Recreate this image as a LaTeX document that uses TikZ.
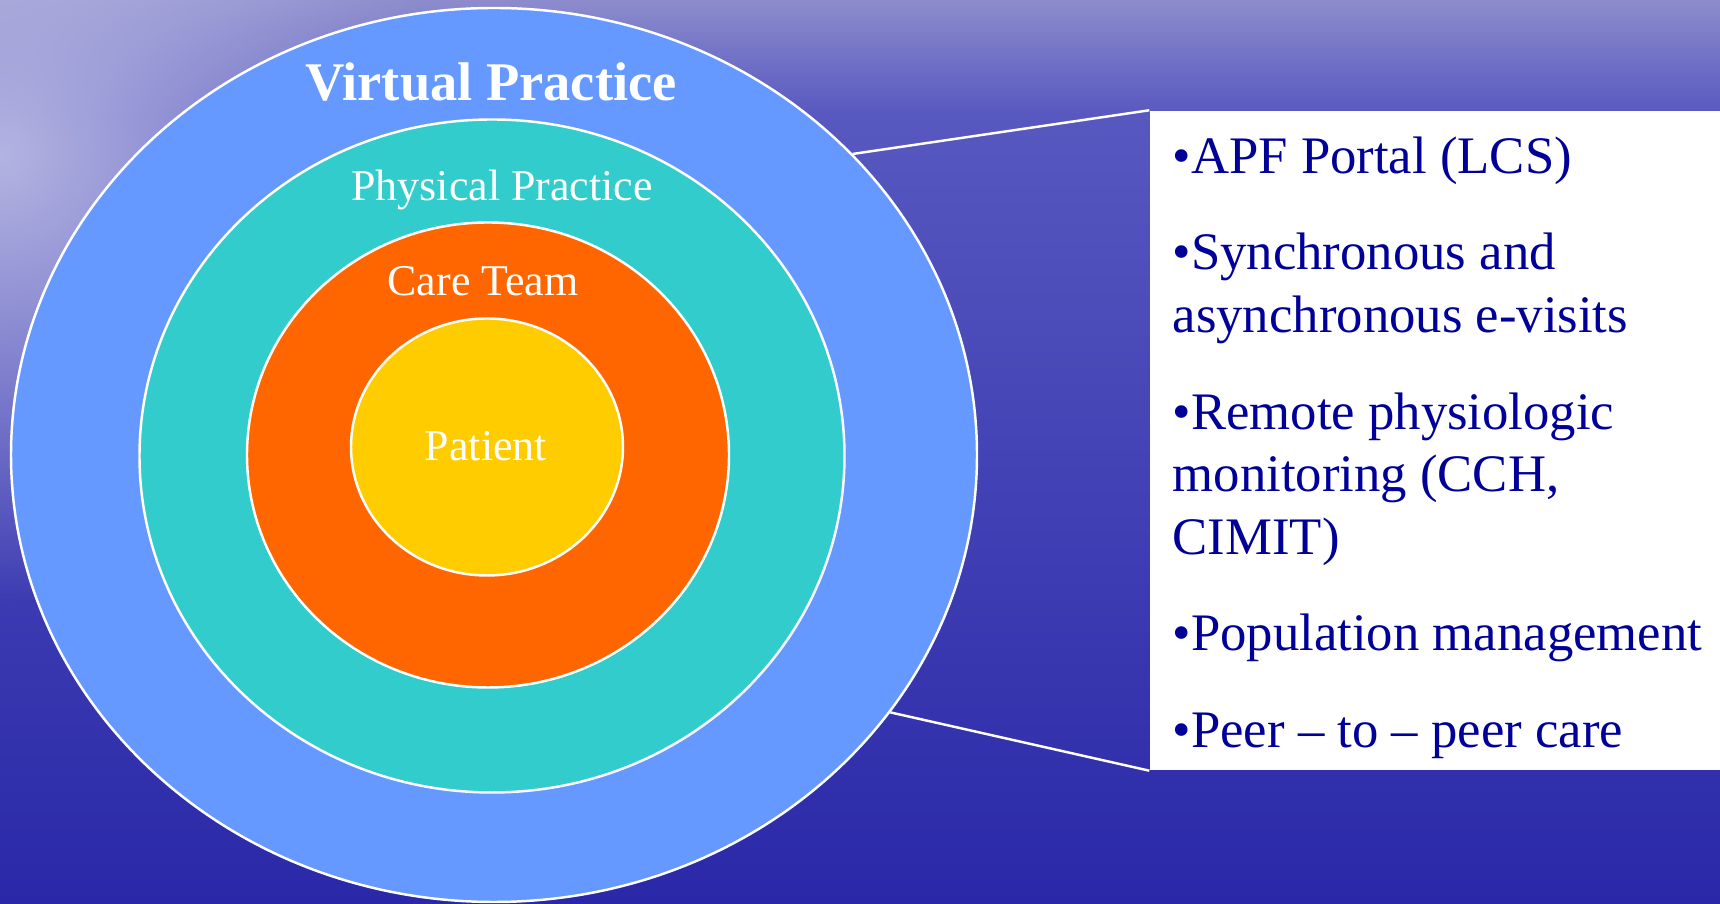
\documentclass[tikz,border=0pt]{standalone}
\usepackage{fontspec}
\setmainfont{Liberation Serif}
\usetikzlibrary{shapes.geometric,fadings}

\definecolor{virtualblue}{RGB}{102,153,255}
\definecolor{physicalteal}{RGB}{51,204,204}
\definecolor{careorange}{RGB}{255,102,0}
\definecolor{patientyellow}{RGB}{255,204,0}
\definecolor{listblue}{RGB}{0,0,153}
\definecolor{seatop}{RGB}{140,140,205}
\definecolor{seahaze}{RGB}{185,185,228}
\definecolor{seamid}{RGB}{88,88,192}
\definecolor{seadeep}{RGB}{42,40,168}

\tikzfading[name=glow, inner color=transparent!5, outer color=transparent!100]

\tikzset{
  ring/.style={ellipse, draw=white, line width=0.7pt, inner sep=0pt},
  ringlabel/.style={text=white, anchor=base, font=\fontsize{12.5}{15}\selectfont},
  listbox/.style={fill=white, inner sep=0pt, minimum width=5.7cm, minimum height=6.59cm},
  listtext/.style={text=listblue, align=left, anchor=north west, inner sep=0pt,
    font=\fontsize{15}{17.8}\selectfont},
  link/.style={white, line width=0.7pt}
}

\begin{document}
\begin{tikzpicture}
    \useasboundingbox (0,0) rectangle (17.2,9.04);

    % Background
    \shade[top color=seamid, bottom color=seadeep] (0,0) rectangle (17.2,7.92);
    \shade[top color=seatop, middle color=seahaze, bottom color=seamid] (0,7.9) rectangle (17.2,9.04);
    \fill[seahaze, path fading=glow, fit fading=true] (-4.5,3) rectangle (4.5,12);

    % Rings
    \node[ring, fill=virtualblue, minimum width=9.66cm, minimum height=8.94cm] (virtual) at (4.94,4.49) {};
    \node[ring, fill=physicalteal, minimum width=7.05cm, minimum height=6.73cm] (physical) at (4.92,4.48) {};
    \node[ring, fill=careorange, minimum width=4.82cm, minimum height=4.65cm] (care) at (4.88,4.49) {};
    \node[ring, fill=patientyellow, minimum width=2.72cm, minimum height=2.57cm] (patient) at (4.87,4.57) {};

    % Ring labels
    \node[ringlabel, font=\bfseries\fontsize{15.5}{18}\selectfont] (virtuallabel) at (4.91,8.03) {Virtual Practice};
    \node[ringlabel] (physicallabel) at (5.02,7.03) {Physical Practice};
    \node[ringlabel] (carelabel) at (4.83,6.08) {Care Team};
    \node[ringlabel] (patientlabel) at (4.86,4.43) {Patient};

    % List
    \node[listbox] (list) at (14.35,4.635) {};
    \node[listtext] (items) at (11.72,7.68) {%
        \textbullet APF Portal (LCS)\\[9.7pt]
        \textbullet Synchronous and\\
        asynchronous e-visits\\[9.7pt]
        \textbullet Remote physiologic\\
        monitoring (CCH,\\
        CIMIT)\\[9.7pt]
        \textbullet Population management\\[9.7pt]
        \textbullet Peer -- to -- peer care};

    % Connectors
    \draw[link] (virtual.40) -- (list.north west);
    \draw[link] (virtual.-33) -- (list.south west);
\end{tikzpicture}
\end{document}
